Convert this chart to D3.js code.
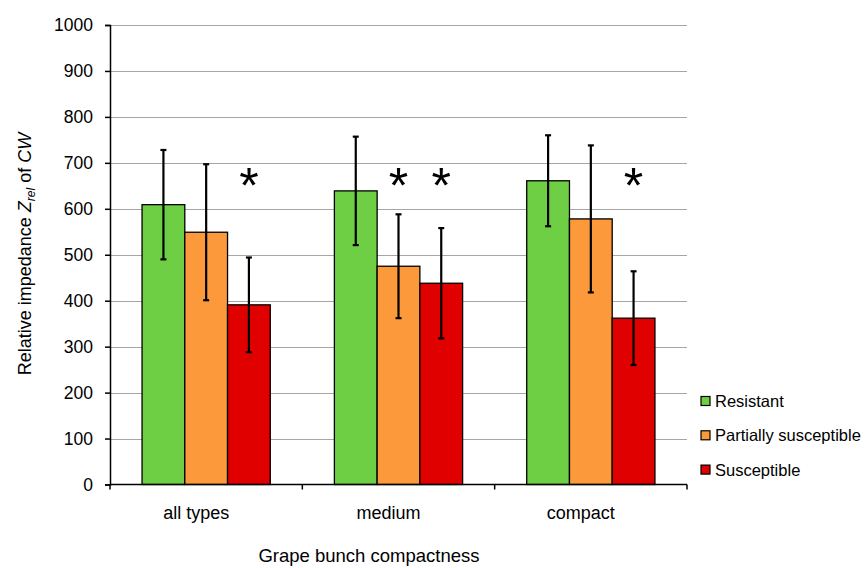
<!DOCTYPE html>
<html>
<head>
<meta charset="utf-8">
<script src="https://cdn.jsdelivr.net/npm/d3@7"></script>
<style>
  html, body { margin: 0; padding: 0; background: #fff; }
  svg { display: block; font-family: "Liberation Sans", Arial, sans-serif; }
</style>
</head>
<body>
<svg id="chart" width="865" height="568"></svg>
<script>
// ---- data ----
const categories = ["all types", "medium", "compact"];
const seriesNames = ["Resistant", "Partially susceptible", "Susceptible"];
const resistant = [609, 639, 661];
const resistantErr = [119, 118, 99];
const partial = [549, 475, 578];
const partialErr = [148, 113, 160];
const susceptible = [391, 438, 362];
const susceptibleErr = [103, 120, 102];
const yTicks = [0, 100, 200, 300, 400, 500, 600, 700, 800, 900, 1000];
// significance markers: [category index, series index]
const stars = [[0, 2], [1, 1], [1, 2], [2, 2]];
const starLevel = 675;

const colors = ["#6fcf44", "#fb993b", "#e00000"];
const values = [resistant, partial, susceptible];
const errors = [resistantErr, partialErr, susceptibleErr];

// ---- layout ----
const svg = d3.select("#chart");
const mLeft = 110, mRight = 687, mTop = 25, mBottom = 484.5;

const x = d3.scaleBand().domain(categories).range([mLeft, mRight]).padding(0);
const gw = x.bandwidth();
const bw = gw / 4.5;
const xs = d3.scaleBand().domain(seriesNames).range([0.75 * bw, gw - 0.75 * bw]).padding(0);
const y = d3.scaleLinear().domain([0, 1000]).range([mBottom, mTop]);

// gridlines
svg.append("g")
  .selectAll("line")
  .data(yTicks.filter(d => d > 0))
  .join("line")
  .attr("x1", mLeft).attr("x2", mRight)
  .attr("y1", d => Math.round(y(d)) + 0.5).attr("y2", d => Math.round(y(d)) + 0.5)
  .attr("stroke", "#a6a6a6").attr("stroke-width", 1);

// bars
const rows = [];
categories.forEach((c, i) => {
  seriesNames.forEach((s, j) => {
    rows.push({ c, s, j, v: values[j][i], e: errors[j][i] });
  });
});

svg.append("g")
  .selectAll("rect")
  .data(rows)
  .join("rect")
  .attr("x", d => x(d.c) + xs(d.s))
  .attr("width", xs.bandwidth())
  .attr("y", d => y(d.v))
  .attr("height", d => y(0) - y(d.v))
  .attr("fill", d => colors[d.j])
  .attr("stroke", "#000")
  .attr("stroke-width", 1.3);

// error bars
const eg = svg.append("g").attr("stroke", "#000").attr("stroke-width", 2.2);
rows.forEach(d => {
  const cx = x(d.c) + xs(d.s) + xs.bandwidth() / 2;
  eg.append("line").attr("x1", cx).attr("x2", cx).attr("y1", y(d.v + d.e)).attr("y2", y(d.v - d.e));
  eg.append("line").attr("x1", cx - 3).attr("x2", cx + 3).attr("y1", y(d.v + d.e)).attr("y2", y(d.v + d.e));
  eg.append("line").attr("x1", cx - 3).attr("x2", cx + 3).attr("y1", y(d.v - d.e)).attr("y2", y(d.v - d.e));
});

// stars
const starSize = 50;
svg.append("g")
  .selectAll("text")
  .data(stars)
  .join("text")
  .attr("x", d => x(categories[d[0]]) + xs(seriesNames[d[1]]) + xs.bandwidth() / 2)
  .attr("y", y(starLevel) + starSize * 0.58)
  .attr("text-anchor", "middle")
  .attr("font-size", starSize)
  .attr("fill", "#000")
  .text("*");

// y axis
const yAxis = svg.append("g")
  .attr("transform", `translate(${mLeft},0)`)
  .call(d3.axisLeft(y).tickValues(yTicks).tickSize(5).tickPadding(12).tickFormat(d3.format("d")));
yAxis.select(".domain").attr("stroke", "#000").attr("stroke-width", 1.5);
yAxis.selectAll(".tick line").attr("stroke", "#000").attr("stroke-width", 1.5);
yAxis.selectAll(".tick text")
  .attr("font-family", "Liberation Sans, Arial, sans-serif")
  .attr("font-size", 17.5).attr("fill", "#000");

// x axis
const xAxisG = svg.append("g").attr("transform", `translate(0,${mBottom})`);
xAxisG.append("line").attr("x1", mLeft).attr("x2", mRight).attr("y1", 0).attr("y2", 0)
  .attr("stroke", "#000").attr("stroke-width", 1.5);
const bounds = categories.map(c => x(c)).concat([mRight]);
xAxisG.selectAll("line.tk").data(bounds).join("line").attr("class", "tk")
  .attr("x1", d => d).attr("x2", d => d).attr("y1", 0).attr("y2", 5)
  .attr("stroke", "#000").attr("stroke-width", 1.5);
xAxisG.selectAll("text").data(categories).join("text")
  .attr("x", d => x(d) + gw / 2 - 10)
  .attr("y", 34)
  .attr("text-anchor", "middle")
  .attr("font-size", 18).attr("fill", "#000")
  .text(d => d);

// x title
svg.append("text")
  .attr("x", 369).attr("y", 562)
  .attr("text-anchor", "middle")
  .attr("font-size", 18.5).attr("fill", "#000")
  .text("Grape bunch compactness");

// y title
const yt = svg.append("text")
  .attr("transform", "translate(31,254) rotate(-90)")
  .attr("text-anchor", "middle")
  .attr("font-size", 18).attr("fill", "#000");
yt.append("tspan").text("Relative impedance ");
yt.append("tspan").attr("font-style", "italic").text("Z");
yt.append("tspan").attr("font-style", "italic").attr("font-size", 12).attr("dy", 4).text("rel");
yt.append("tspan").attr("dy", -4).text(" of ");
yt.append("tspan").attr("font-style", "italic").text("CW");

// legend
const lg = svg.append("g").attr("transform", "translate(701,401)");
seriesNames.forEach((s, j) => {
  const row = lg.append("g").attr("transform", `translate(0,${j * 34.3})`);
  row.append("rect").attr("x", 0).attr("y", -4.5).attr("width", 9).attr("height", 9)
    .attr("fill", colors[j]).attr("stroke", "#000").attr("stroke-width", 1.2);
  row.append("text").attr("x", 14).attr("y", 6).attr("font-size", 16.5).attr("fill", "#000").text(s);
});
</script>
</body>
</html>
